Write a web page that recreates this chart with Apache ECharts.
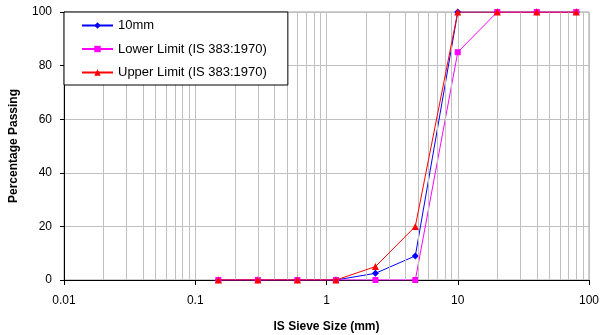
<!DOCTYPE html>
<html><head><meta charset="utf-8">
<script src="https://cdn.jsdelivr.net/npm/echarts@6/dist/echarts.min.js"></script>
<style>html,body{margin:0;padding:0;background:#fff}#c{width:600px;height:335px}</style>
</head><body><div id="c"></div>
<script>
const sieveSizes = [0.15, 0.3, 0.6, 1.18, 2.36, 4.75, 10, 20, 40, 80];
const passing10mm = [0, 0, 0, 0, 2.5, 9, 100, 100, 100, 100];
const lowerLimit = [0, 0, 0, 0, 0, 0, 85, 100, 100, 100];
const upperLimit = [0, 0, 0, 0, 5, 20, 100, 100, 100, 100];
const seriesNames = ['10mm', 'Lower Limit (IS 383:1970)', 'Upper Limit (IS 383:1970)'];
const xTickLabels = ['0.01', '0.1', '1', '10', '100'];
const yTickLabels = ['0', '20', '40', '60', '80', '100'];

const minorGrid = [];
for (let d = 0.01; d < 100; d *= 10) {
  for (let k = 2; k <= 9; k++) minorGrid.push(+(d * k).toPrecision(3));
}
const font = 'Arial, "Liberation Sans", sans-serif';
const pair = (xs, ys) => xs.map((x, i) => [x, ys[i]]);

const chart = echarts.init(document.getElementById('c'), null, {renderer: 'canvas'});
chart.setOption({
  animation: false,
  textStyle: {fontFamily: font},
  grid: {left: 64, right: 11, top: 12, bottom: 55, containLabel: false, outerBoundsMode: 'none',
    show: true, borderColor: '#a0a0a0', borderWidth: 1, backgroundColor: '#fff'},
  legend: {
    orient: 'vertical', left: 64, top: 12, z: 20,
    backgroundColor: '#fff', borderColor: '#000', borderWidth: 1,
    padding: [7, 21, 6, 17], itemGap: 10.5, itemWidth: 31, itemHeight: 8,
    textStyle: {fontFamily: font, fontSize: 13, color: '#000'},
    data: seriesNames
  },
  xAxis: {
    type: 'log', logBase: 10, min: 0.01, max: 100, interval: 1,
    name: 'IS Sieve Size (mm)', nameLocation: 'middle', nameGap: 41,
    nameTextStyle: {fontFamily: font, fontSize: 12, fontWeight: 'bold', color: '#000'},
    axisLine: {show: true, onZero: false, lineStyle: {color: '#000', width: 1}},
    axisTick: {show: true, length: 5, lineStyle: {color: '#000'}},
    axisLabel: {margin: 15, fontSize: 12, color: '#000', fontFamily: font,
      formatter: v => { const e = Math.round(Math.log10(v)) + 2; return xTickLabels[e] !== undefined ? xTickLabels[e] : ''; }},
    splitLine: {show: true, lineStyle: {color: '#c0c0c0', width: 1}}
  },
  yAxis: {
    type: 'value', min: 0, max: 100, interval: 20,
    name: 'Percentage Passing', nameLocation: 'middle', nameGap: 44, nameRotate: 90,
    nameTextStyle: {fontFamily: font, fontSize: 12, fontWeight: 'bold', color: '#000'},
    axisLine: {show: true, lineStyle: {color: '#000', width: 1}},
    axisTick: {show: true, length: 4, lineStyle: {color: '#000'}},
    axisLabel: {margin: 12, fontSize: 12, color: '#000', fontFamily: font,
      formatter: v => yTickLabels[Math.round(v / 20)]},
    splitLine: {show: true, lineStyle: {color: '#c0c0c0', width: 1}}
  },
  series: [
    {
      name: '__grid', type: 'line', data: [], silent: true, legendHoverLink: false, z: 1,
      markLine: {silent: true, symbol: 'none', label: {show: false}, animation: false,
        lineStyle: {color: '#c0c0c0', type: 'solid', width: 1},
        data: minorGrid.map(v => ({xAxis: v}))}
    },
    {
      name: seriesNames[0], type: 'line', data: pair(sieveSizes, passing10mm),
      symbol: 'diamond', symbolSize: 7, z: 3,
      itemStyle: {color: '#0000ff'}, lineStyle: {color: '#0000ff', width: 1}
    },
    {
      name: seriesNames[1], type: 'line', data: pair(sieveSizes, lowerLimit),
      symbol: 'rect', symbolSize: 6, z: 4,
      itemStyle: {color: '#ff00ff'}, lineStyle: {color: '#ff00ff', width: 1}
    },
    {
      name: seriesNames[2], type: 'line', data: pair(sieveSizes, upperLimit),
      symbol: 'triangle', symbolSize: 7, z: 5,
      itemStyle: {color: '#ff0000'}, lineStyle: {color: '#ff0000', width: 1}
    }
  ]
});
</script></body></html>
